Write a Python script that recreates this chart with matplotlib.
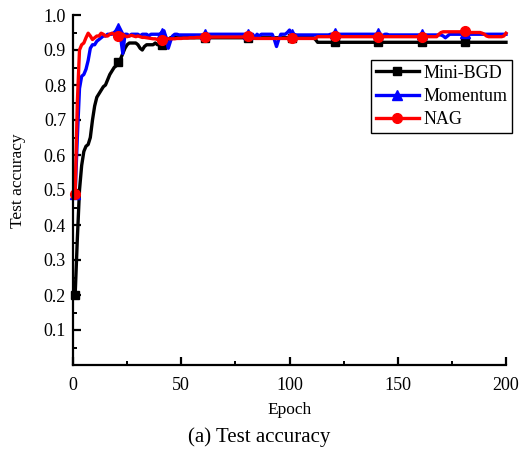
import matplotlib

matplotlib.use("Agg")
import matplotlib.pyplot as plt
import numpy as np
from matplotlib.ticker import MultipleLocator

plt.rcParams["font.family"] = ["Liberation Serif", "DejaVu Serif"]

# Test accuracy per epoch (1..200) for the three optimisers
mini_bgd = [
    0.200, 0.360, 0.500, 0.570, 0.610, 0.625, 0.630, 0.650, 0.700, 0.740,
    0.765, 0.775, 0.785, 0.795, 0.800, 0.815, 0.830, 0.840, 0.850, 0.855,
    0.865, 0.875, 0.890, 0.905, 0.915, 0.920, 0.920, 0.920, 0.920, 0.915,
    0.905, 0.900, 0.910, 0.915, 0.915, 0.915, 0.915, 0.920, 0.915, 0.915,
    0.915, 0.920, 0.925, 0.930, 0.935, 0.937, 0.937, 0.935, 0.935, 0.935,
    0.935, 0.935, 0.935, 0.935, 0.935, 0.935, 0.935, 0.935, 0.935, 0.935,
    0.935, 0.935, 0.935, 0.935, 0.935, 0.935, 0.935, 0.935, 0.935, 0.935,
    0.935, 0.935, 0.935, 0.935, 0.935, 0.935, 0.935, 0.935, 0.935, 0.935,
    0.935, 0.935, 0.935, 0.935, 0.935, 0.935, 0.935, 0.935, 0.935, 0.935,
    0.935, 0.935, 0.935, 0.935, 0.935, 0.935, 0.935, 0.935, 0.935, 0.935,
    0.935, 0.935, 0.935, 0.935, 0.935, 0.935, 0.935, 0.935, 0.935, 0.935,
    0.935, 0.930, 0.922, 0.922, 0.922, 0.922, 0.922, 0.922, 0.922, 0.922,
    0.922, 0.922, 0.922, 0.922, 0.922, 0.922, 0.922, 0.922, 0.922, 0.922,
    0.922, 0.922, 0.922, 0.922, 0.922, 0.922, 0.922, 0.922, 0.922, 0.922,
    0.922, 0.922, 0.922, 0.922, 0.922, 0.922, 0.922, 0.922, 0.922, 0.922,
    0.922, 0.922, 0.922, 0.922, 0.922, 0.922, 0.922, 0.922, 0.922, 0.922,
    0.922, 0.922, 0.922, 0.922, 0.922, 0.922, 0.922, 0.922, 0.922, 0.922,
    0.922, 0.922, 0.922, 0.922, 0.922, 0.922, 0.922, 0.922, 0.922, 0.922,
    0.922, 0.922, 0.922, 0.922, 0.922, 0.922, 0.922, 0.922, 0.922, 0.922,
    0.922, 0.922, 0.922, 0.922, 0.922, 0.922, 0.922, 0.922, 0.922, 0.922,
]

momentum = [
    0.490, 0.650, 0.790, 0.825, 0.830, 0.845, 0.870, 0.905, 0.915, 0.915,
    0.925, 0.930, 0.935, 0.940, 0.940, 0.945, 0.945, 0.945, 0.950, 0.955,
    0.962, 0.935, 0.890, 0.945, 0.945, 0.940, 0.945, 0.945, 0.945, 0.945,
    0.940, 0.945, 0.945, 0.945, 0.940, 0.945, 0.945, 0.945, 0.945, 0.945,
    0.950, 0.955, 0.935, 0.905, 0.925, 0.940, 0.945, 0.945, 0.943, 0.943,
    0.943, 0.943, 0.943, 0.943, 0.943, 0.943, 0.943, 0.943, 0.943, 0.943,
    0.945, 0.945, 0.945, 0.945, 0.945, 0.945, 0.945, 0.945, 0.945, 0.945,
    0.945, 0.945, 0.945, 0.945, 0.945, 0.945, 0.945, 0.945, 0.945, 0.945,
    0.945, 0.940, 0.945, 0.935, 0.945, 0.940, 0.945, 0.945, 0.945, 0.945,
    0.945, 0.945, 0.930, 0.910, 0.930, 0.945, 0.945, 0.945, 0.950, 0.957,
    0.945, 0.945, 0.943, 0.943, 0.943, 0.943, 0.943, 0.943, 0.943, 0.943,
    0.943, 0.943, 0.943, 0.943, 0.943, 0.943, 0.943, 0.943, 0.945, 0.945,
    0.948, 0.945, 0.945, 0.945, 0.945, 0.945, 0.945, 0.945, 0.945, 0.945,
    0.945, 0.945, 0.945, 0.945, 0.945, 0.945, 0.945, 0.945, 0.945, 0.945,
    0.948, 0.945, 0.940, 0.945, 0.945, 0.943, 0.943, 0.943, 0.943, 0.943,
    0.943, 0.943, 0.943, 0.943, 0.943, 0.943, 0.943, 0.943, 0.943, 0.943,
    0.945, 0.943, 0.943, 0.943, 0.943, 0.943, 0.943, 0.943, 0.943, 0.943,
    0.940, 0.935, 0.940, 0.945, 0.945, 0.945, 0.945, 0.945, 0.945, 0.945,
    0.948, 0.945, 0.945, 0.945, 0.945, 0.945, 0.945, 0.945, 0.945, 0.945,
    0.945, 0.945, 0.945, 0.945, 0.945, 0.945, 0.945, 0.945, 0.945, 0.945,
]

nag = [
    0.490, 0.750, 0.900, 0.915, 0.920, 0.935, 0.948, 0.940, 0.930, 0.935,
    0.940, 0.940, 0.948, 0.945, 0.940, 0.940, 0.945, 0.948, 0.945, 0.940,
    0.940, 0.940, 0.945, 0.940, 0.938, 0.940, 0.942, 0.940, 0.938, 0.940,
    0.938, 0.936, 0.936, 0.935, 0.934, 0.933, 0.932, 0.932, 0.930, 0.930,
    0.930, 0.930, 0.932, 0.932, 0.932, 0.932, 0.932, 0.933, 0.933, 0.933,
    0.934, 0.934, 0.934, 0.935, 0.935, 0.935, 0.936, 0.936, 0.936, 0.936,
    0.937, 0.937, 0.937, 0.937, 0.937, 0.937, 0.937, 0.937, 0.937, 0.937,
    0.937, 0.937, 0.937, 0.937, 0.937, 0.937, 0.937, 0.937, 0.938, 0.939,
    0.940, 0.937, 0.935, 0.933, 0.933, 0.933, 0.933, 0.933, 0.933, 0.933,
    0.933, 0.933, 0.933, 0.933, 0.933, 0.933, 0.933, 0.933, 0.933, 0.933,
    0.933, 0.933, 0.933, 0.933, 0.933, 0.933, 0.933, 0.933, 0.933, 0.933,
    0.933, 0.933, 0.938, 0.938, 0.938, 0.938, 0.938, 0.938, 0.938, 0.940,
    0.940, 0.938, 0.938, 0.938, 0.938, 0.938, 0.938, 0.938, 0.938, 0.938,
    0.938, 0.938, 0.938, 0.938, 0.938, 0.938, 0.938, 0.938, 0.938, 0.938,
    0.938, 0.938, 0.938, 0.938, 0.938, 0.938, 0.938, 0.938, 0.938, 0.938,
    0.938, 0.938, 0.938, 0.938, 0.938, 0.938, 0.938, 0.938, 0.938, 0.938,
    0.938, 0.938, 0.938, 0.938, 0.938, 0.938, 0.938, 0.938, 0.945, 0.950,
    0.952, 0.952, 0.952, 0.952, 0.952, 0.952, 0.952, 0.952, 0.952, 0.952,
    0.955, 0.952, 0.950, 0.950, 0.950, 0.950, 0.950, 0.950, 0.948, 0.945,
    0.940, 0.938, 0.938, 0.938, 0.938, 0.938, 0.938, 0.938, 0.940, 0.948,
]

epochs = np.arange(1, len(mini_bgd) + 1)

series = [
    ("Mini-BGD", mini_bgd, "black", "s", 6),
    ("Momentum", momentum, "blue", "^", 7),
    ("NAG", nag, "red", "o", 7),
]

fig = plt.figure(figsize=(5.19, 4.5), dpi=100)
ax = fig.add_axes((73 / 519, 1 - 365 / 450, 433 / 519, 350 / 450))

for label, values, color, marker, ms in series:
    ax.plot(epochs, values, color=color, lw=2.4, marker=marker, ms=ms,
            markevery=20, label=label, clip_on=False)

ax.set_xlim(0, 200)
ax.set_ylim(0, 1.0)
ax.xaxis.set_major_locator(MultipleLocator(50))
ax.xaxis.set_minor_locator(MultipleLocator(25))
ax.set_yticks(np.arange(0.1, 1.01, 0.1))
ax.yaxis.set_minor_locator(MultipleLocator(0.05))
ax.set_yticklabels([f"{v:.1f}" for v in np.arange(0.1, 1.01, 0.1)])

for side in ("top", "right"):
    ax.spines[side].set_visible(False)
for side in ("left", "bottom"):
    ax.spines[side].set_linewidth(1.6)

ax.tick_params(which="major", direction="in", length=6, width=1.6,
               labelsize=13)
ax.tick_params(axis="x", which="major", pad=9)
ax.tick_params(axis="y", which="major", pad=5)
ax.tick_params(which="minor", direction="in", length=3, width=1.4)

ax.set_xlabel("Epoch", fontsize=12.5)
ax.xaxis.set_label_coords(0.5, -(410 - 365) / 350, transform=ax.transAxes)
ax.xaxis.label.set_va("center")
ax.set_ylabel("Test accuracy", fontsize=12.5)
ax.yaxis.set_label_coords((18 - 73) / 433, (365 - 181) / 350,
                          transform=ax.transAxes)
ax.yaxis.label.set_va("center")
fig.text(0.5, 1 - 437 / 450, "(a) Test accuracy", ha="center", va="center",
         fontsize=15)

leg = ax.legend(loc="upper right", bbox_to_anchor=(512 / 519, 1 - 60 / 450),
                bbox_transform=fig.transFigure, fontsize=13, fancybox=False,
                framealpha=1, edgecolor="black", handlelength=2.4,
                borderpad=0.25, labelspacing=0.35, handletextpad=0.25,
                borderaxespad=0)
leg.get_frame().set_linewidth(1.0)
leg._legend_box.sep = 0

fig.savefig("out.png", dpi=100)
